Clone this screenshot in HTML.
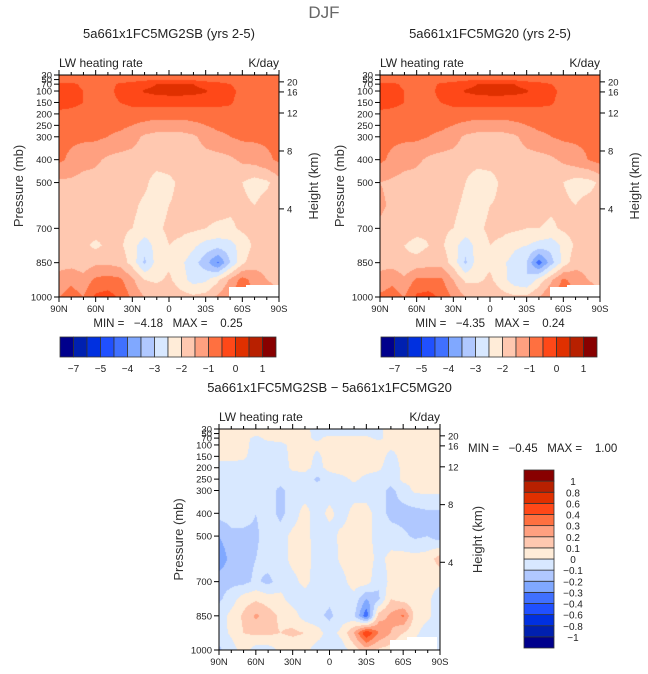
<!DOCTYPE html>
<html><head><meta charset="utf-8">
<style>
html,body{margin:0;padding:0;background:#fff;}
#root{position:relative;width:648px;height:674px;overflow:hidden;font-family:"Liberation Sans",sans-serif;}
canvas{position:absolute;}
svg{position:absolute;left:0;top:0;}
.pre{white-space:pre;}
</style></head>
<body>
<div id="root">
<canvas id="c1"></canvas>
<canvas id="c2"></canvas>
<canvas id="c3"></canvas>
<svg id="ov" width="648" height="674"></svg>
</div>
<script>
const lats = ["90N","80N","70N","60N","50N","40N","30N","20N","10N","0","10S","20S","30S","40S","50S","60S","70S","80S","90S"];
const plevs = [30,50,70,100,150,200,250,300,400,500,600,700,775,850,925,1000];
const xTickLabels = ["90N","60N","30N","0","30S","60S","90S"];
const pTickLabels = [30,50,70,100,150,200,250,300,400,500,700,850,1000];
const pTickShown = ["30","50","70","100","150","200","250","300","400","500","700","850","1000"];
const hTickLabels = [20,16,12,8,4];
const hTickPress = [60,104,196,362,615];
const levels1 = [-7,-6,-5,-4.5,-4,-3.5,-3,-2.5,-2,-1.5,-1,-0.5,0,0.5,1];
const cbLabels1 = ["-7","","-5","","-4","","-3","","-2","","-1","","0","","1"];
const levelsD = [-1,-0.8,-0.6,-0.4,-0.3,-0.2,-0.1,0,0.1,0.2,0.3,0.4,0.6,0.8,1];
const cbLabelsD = ["\u22121","\u22120.8","\u22120.6","\u22120.4","\u22120.3","\u22120.2","\u22120.1","0","0.1","0.2","0.3","0.4","0.6","0.8","1"];
const colors = ["#00008c","#0020b0","#0030e0","#2050ff","#4070ff","#80a8ff","#b0c8ff","#d8e8ff","#ffecd8","#ffc8b0","#ffa080","#ff7040","#ff4818","#e03000","#b82000","#880000"];

const grid1 = [
[-0.8,-0.8,-0.8,-0.8,-0.8,-0.8,-0.8,-0.8,-0.8,-0.8,-0.8,-0.8,-0.8,-0.8,-0.8,-0.8,-0.7,-0.6,-0.6],
[-0.7,-0.7,-0.8,-0.8,-0.8,-0.8,-0.7,-0.6,-0.5,-0.5,-0.5,-0.6,-0.7,-0.8,-0.8,-0.8,-0.8,-0.8,-0.8],
[-0.4,-0.4,-0.6,-0.8,-0.7,-0.4,-0.3,-0.2,0.0,0.05,0.05,0.0,-0.2,-0.3,-0.5,-0.8,-0.8,-0.8,-0.8],
[-0.3,-0.3,-0.5,-0.8,-0.7,-0.3,-0.2,0.05,0.15,0.2,0.2,0.15,0.05,-0.2,-0.3,-0.7,-0.8,-0.8,-0.8],
[-0.3,-0.3,-0.5,-0.8,-0.7,-0.5,-0.3,-0.3,-0.3,-0.3,-0.3,-0.3,-0.3,-0.3,-0.4,-0.8,-0.8,-0.8,-0.8],
[-0.6,-0.7,-0.8,-0.9,-0.9,-0.9,-0.8,-0.8,-0.8,-0.8,-0.8,-0.8,-0.8,-0.8,-0.8,-0.9,-0.9,-0.8,-0.8],
[-0.8,-0.8,-0.9,-0.9,-0.9,-0.9,-1.0,-1.1,-1.2,-1.2,-1.2,-1.1,-1.0,-0.9,-0.9,-0.9,-0.9,-0.8,-0.8],
[-0.9,-0.9,-0.9,-0.9,-1.0,-1.1,-1.3,-1.6,-1.7,-1.7,-1.7,-1.6,-1.3,-1.1,-1.0,-0.9,-0.9,-0.9,-0.9],
[-0.9,-1.1,-1.3,-1.4,-1.6,-1.7,-1.7,-1.8,-1.8,-1.8,-1.8,-1.8,-1.7,-1.7,-1.6,-1.4,-1.3,-1.1,-0.9],
[-1.6,-1.6,-1.7,-1.7,-1.8,-1.8,-1.8,-1.9,-2.2,-2.1,-1.9,-1.8,-1.8,-1.8,-1.9,-2.0,-2.2,-2.1,-1.7],
[-1.6,-1.7,-1.7,-1.8,-1.8,-1.8,-1.9,-2.1,-2.2,-2.0,-1.9,-1.8,-1.8,-1.8,-1.9,-1.9,-2.0,-1.8,-1.7],
[-1.7,-1.8,-1.8,-1.8,-1.9,-1.9,-2.0,-2.2,-2.1,-1.9,-1.9,-1.9,-2.0,-2.1,-2.1,-1.9,-1.8,-1.7,-1.7],
[-1.8,-1.8,-1.9,-2.1,-1.9,-1.9,-2.3,-2.8,-2.3,-2.0,-2.1,-2.4,-2.7,-2.8,-2.7,-2.3,-1.9,-1.8,-1.7],
[-1.7,-1.7,-1.8,-1.6,-1.6,-1.7,-2.2,-3.1,-2.3,-2.1,-2.4,-2.8,-3.3,-4.1,-3.0,-2.1,-1.7,-1.7,-1.7],
[-1.3,-1.1,-1.3,-0.9,-0.8,-0.9,-1.4,-2.0,-2.1,-1.9,-2.3,-2.7,-2.6,-2.1,-1.4,-0.8,-1.2,-1.5,-1.6],
[-1.0,-0.8,-1.0,-0.4,-0.3,-0.6,-1.1,-1.5,-1.6,-1.6,-1.8,-1.9,-1.8,-1.4,-1.0,-0.6,-1.0,-1.3,-1.4]];

const grid2 = [
[-0.8,-0.8,-0.8,-0.8,-0.8,-0.8,-0.8,-0.8,-0.8,-0.8,-0.8,-0.8,-0.8,-0.8,-0.8,-0.8,-0.7,-0.6,-0.6],
[-0.7,-0.7,-0.8,-0.8,-0.8,-0.8,-0.7,-0.6,-0.5,-0.5,-0.5,-0.6,-0.7,-0.8,-0.8,-0.8,-0.8,-0.8,-0.8],
[-0.4,-0.4,-0.6,-0.8,-0.7,-0.4,-0.3,-0.2,0.0,0.05,0.05,0.0,-0.2,-0.3,-0.5,-0.8,-0.8,-0.8,-0.8],
[-0.3,-0.3,-0.5,-0.8,-0.7,-0.3,-0.2,0.05,0.15,0.2,0.2,0.15,0.05,-0.2,-0.3,-0.7,-0.8,-0.8,-0.8],
[-0.3,-0.3,-0.5,-0.8,-0.7,-0.5,-0.3,-0.3,-0.3,-0.3,-0.3,-0.3,-0.3,-0.3,-0.4,-0.8,-0.8,-0.8,-0.8],
[-0.6,-0.7,-0.8,-0.9,-0.9,-0.9,-0.8,-0.8,-0.8,-0.8,-0.8,-0.8,-0.8,-0.8,-0.8,-0.9,-0.9,-0.8,-0.8],
[-0.8,-0.8,-0.9,-0.9,-0.9,-0.9,-1.0,-1.1,-1.2,-1.2,-1.2,-1.1,-1.0,-0.9,-0.9,-0.9,-0.9,-0.8,-0.8],
[-0.9,-0.9,-0.9,-0.9,-1.0,-1.1,-1.3,-1.6,-1.7,-1.7,-1.7,-1.6,-1.3,-1.1,-1.0,-0.9,-0.9,-0.9,-0.9],
[-0.9,-1.1,-1.3,-1.4,-1.6,-1.7,-1.7,-1.8,-1.8,-1.8,-1.8,-1.8,-1.7,-1.7,-1.6,-1.4,-1.2,-1.0,-0.8],
[-1.5,-1.6,-1.7,-1.7,-1.8,-1.8,-1.8,-2.0,-2.3,-2.2,-1.9,-1.8,-1.8,-1.8,-1.9,-2.0,-2.2,-2.2,-1.9],
[-1.4,-1.6,-1.7,-1.7,-1.8,-1.8,-1.9,-2.1,-2.2,-2.0,-1.9,-1.8,-1.8,-1.8,-1.9,-1.9,-2.0,-1.8,-1.8],
[-1.6,-1.7,-1.7,-1.8,-1.9,-1.9,-2.0,-2.2,-2.1,-1.9,-1.9,-1.9,-2.0,-2.0,-2.1,-1.9,-1.8,-1.7,-1.7],
[-1.8,-1.8,-2.0,-2.2,-2.0,-1.9,-2.3,-2.8,-2.3,-2.0,-2.1,-2.4,-2.5,-2.7,-2.8,-2.4,-1.9,-1.8,-1.7],
[-1.7,-1.7,-1.9,-1.8,-1.7,-1.7,-2.2,-3.1,-2.2,-2.1,-2.4,-2.7,-3.0,-4.3,-3.2,-2.3,-1.7,-1.7,-1.7],
[-1.3,-1.1,-1.4,-0.9,-0.9,-0.9,-1.5,-2.1,-2.1,-1.9,-2.3,-2.8,-3.0,-2.3,-1.6,-0.9,-1.2,-1.5,-1.6],
[-0.9,-0.8,-1.0,-0.4,-0.3,-0.6,-1.1,-1.5,-1.6,-1.6,-1.8,-1.9,-1.9,-1.5,-1.0,-0.6,-1.0,-1.3,-1.4]];

const gridD = [
[0.05,0.05,0.05,0.04,0.03,0.04,0.04,0.03,-0.05,-0.05,-0.05,-0.05,-0.05,-0.02,0.04,0.05,0.05,0.05,0.05],
[0.05,0.05,0.05,0.03,0.03,0.04,0.04,0.03,-0.03,-0.03,-0.03,-0.03,-0.03,-0.02,0.04,0.05,0.05,0.05,0.05],
[0.05,0.05,0.04,-0.03,0.03,0.04,0.04,0.02,-0.02,0.03,0.03,0.03,0.02,-0.02,0.03,0.05,0.05,0.05,0.05],
[0.05,0.05,0.04,-0.05,-0.04,-0.03,0.03,0.03,0.02,0.04,0.05,0.05,0.05,0.04,0.02,0.03,0.05,0.05,0.05],
[0.04,0.04,0.02,-0.05,-0.05,-0.05,0.03,0.04,-0.02,0.04,0.05,0.05,0.05,0.04,-0.03,0.03,0.05,0.05,0.05],
[-0.05,-0.05,-0.05,-0.05,-0.05,-0.05,0.02,0.03,-0.03,0.03,0.05,0.05,0.04,0.02,-0.05,0.02,0.04,0.05,0.05],
[-0.05,-0.05,-0.05,-0.05,-0.05,-0.05,-0.05,-0.05,-0.12,-0.05,-0.03,0.02,-0.03,-0.05,-0.05,0.02,0.03,0.04,0.04],
[-0.05,-0.05,-0.05,-0.05,-0.05,-0.13,-0.05,-0.05,-0.05,-0.05,-0.05,-0.05,-0.05,-0.05,-0.13,-0.05,0.02,0.02,0.02],
[-0.06,-0.05,-0.05,-0.1,-0.05,-0.13,-0.05,0.04,-0.05,0.03,-0.05,0.04,0.04,-0.05,-0.13,-0.14,-0.14,-0.12,-0.12],
[-0.2,-0.13,-0.13,-0.12,-0.05,-0.05,0.03,0.04,-0.05,-0.05,0.03,0.05,0.04,-0.05,-0.05,-0.08,-0.12,-0.1,-0.16],
[-0.28,-0.16,-0.13,-0.1,-0.05,-0.05,0.03,0.05,-0.05,-0.05,0.02,0.05,0.05,-0.03,0.03,0.04,0.04,0.05,0.15],
[-0.13,-0.13,-0.13,-0.08,-0.13,-0.05,-0.03,0.03,-0.05,-0.05,-0.03,0.04,0.05,-0.08,0.03,0.04,0.04,0.03,0.02],
[-0.12,-0.05,0.05,0.08,0.05,0.03,-0.05,-0.05,-0.05,-0.08,-0.05,-0.03,-0.2,-0.12,0.1,0.05,0.03,0.02,-0.05],
[-0.05,0.03,0.12,0.22,0.15,0.08,0.05,-0.05,-0.08,-0.12,-0.05,-0.08,-0.38,0.15,0.22,0.32,0.06,0.02,-0.05],
[-0.05,0.02,0.1,0.12,0.12,0.1,0.12,0.1,0.05,-0.05,0.03,0.2,0.5,0.3,0.2,0.1,0.02,-0.05,-0.05],
[-0.12,-0.05,0.05,-0.05,-0.05,0.02,0.03,0.03,-0.05,-0.05,-0.05,0.05,0.15,0.08,0.05,-0.05,-0.05,-0.05,-0.05]];

const NS="http://www.w3.org/2000/svg";
const ov=document.getElementById('ov');
function el(tag,attrs,txt){const e=document.createElementNS(NS,tag);for(const k in attrs)e.setAttribute(k,attrs[k]);if(txt!==undefined)e.textContent=txt;ov.appendChild(e);return e;}

function colorFor(v,lev){let i=0;while(i<lev.length&&v>=lev[i])i++;return colors[i];}
function hex(c){return [parseInt(c.substr(1,2),16),parseInt(c.substr(3,2),16),parseInt(c.substr(5,2),16)];}

function drawField(id,grid,lev,X,Y,W,H){
  const cv=document.getElementById(id);
  cv.width=W;cv.height=H;cv.style.left=X+'px';cv.style.top=Y+'px';
  const ctx=cv.getContext('2d');const img=ctx.createImageData(W,H);
  const nl=lats.length-1;
  for(let py=0;py<H;py++){
    const p=30+(py+0.5)/H*970;
    let k=0;while(k<plevs.length-2&&p>plevs[k+1])k++;
    const t=Math.min(1,Math.max(0,(p-plevs[k])/(plevs[k+1]-plevs[k])));
    for(let px=0;px<W;px++){
      const f=(px+0.5)/W*nl;let j=Math.min(nl-1,Math.floor(f));const s=f-j;
      const v=(1-t)*((1-s)*grid[k][j]+s*grid[k][j+1])+t*((1-s)*grid[k+1][j]+s*grid[k+1][j+1]);
      const c=hex(colorFor(v,lev));const o=(py*W+px)*4;
      img.data[o]=c[0];img.data[o+1]=c[1];img.data[o+2]=c[2];img.data[o+3]=255;
    }
  }
  ctx.putImageData(img,0,0);
}

function yOf(p,Y,H){return Y+(p-30)/970*H;}

function drawAxes(X,Y,W,H,title,hx,name){
  const fam='"Liberation Sans",sans-serif';
  const t=el('text',{x:X+W/2,y:Y-37,'text-anchor':'middle','font-size':13,fill:'#222','font-family':fam},title);
  
  
  const l=el('text',{x:X,y:Y-8,'font-size':12,fill:'#222','font-family':fam},'LW heating rate');
  
  
  const u=el('text',{x:X+W,y:Y-8,'text-anchor':'end','font-size':12,fill:'#222','font-family':fam},'K/day');
  
  
  const fr=el('rect',{x:X,y:Y,width:W,height:H,fill:'none',stroke:'#000','stroke-width':1});
  
  
  for(let i=0;i<lats.length;i++){
    const x=X+i/(lats.length-1)*W;const major=i%3===0;const L=major?5:3;
    el('line',{x1:x,y1:Y+H,x2:x,y2:Y+H+L,stroke:'#000'});
    el('line',{x1:x,y1:Y,x2:x,y2:Y-L,stroke:'#000'});
    if(major){const tx=el('text',{x:x,y:Y+H+15,'text-anchor':'middle','font-size':9.5,fill:'#222','font-family':fam},xTickLabels[i/3]);
      
      }
  }
  pTickLabels.forEach((p,i)=>{const y=yOf(p,Y,H);el('line',{x1:X-5,y1:y,x2:X,y2:y,stroke:'#000'});
    const tx=el('text',{x:X-7,y:y+3.5,'text-anchor':'end','font-size':9.5,fill:'#222','font-family':fam},pTickShown[i]);
    
    });
  hTickLabels.forEach((h,i)=>{const y=yOf(hTickPress[i],Y,H);el('line',{x1:X+W,y1:y,x2:X+W+5,y2:y,stroke:'#000'});
    const tx=el('text',{x:X+W+8,y:y+3.5,'font-size':9.5,fill:'#222','font-family':fam},String(h));
    
    });
  const pl=el('text',{x:0,y:0,'text-anchor':'middle','font-size':13,fill:'#333','font-family':fam,transform:`translate(${X-36},${Y+H/2}) rotate(-90)`},'Pressure (mb)');
  
  
  const hl=el('text',{x:0,y:0,'text-anchor':'middle','font-size':13,fill:'#333','font-family':fam,transform:`translate(${hx},${Y+H/2}) rotate(-90)`},'Height (km)');
  
  
}

function hbar(X,Y,W,H,lev,labels,name){
  const n=colors.length,bw=W/n;
  for(let i=0;i<n;i++){const r=el('rect',{x:X+i*bw,y:Y,width:bw,height:H,fill:colors[i],stroke:'#333','stroke-width':0.8});
    
    }
  labels.forEach((s,i)=>{if(!s)return;const t=el('text',{x:X+(i+1)*bw,y:Y+H+15,'text-anchor':'middle','font-size':10,fill:'#222','font-family':'"Liberation Sans",sans-serif'},s.replace('-','\u2212'));
    
    });
}
function vbar(X,Y,W,H,lev,labels,name){
  const n=colors.length,bh=H/n;
  for(let i=0;i<n;i++){const r=el('rect',{x:X,y:Y+(n-1-i)*bh,width:W,height:bh,fill:colors[i],stroke:'#333','stroke-width':0.8});
    
    }
  labels.forEach((s,i)=>{const y=Y+(n-1-i)*bh;const t=el('text',{x:X+W+19,y:y+4,'text-anchor':'middle','font-size':10,fill:'#222','font-family':'"Liberation Sans",sans-serif'},s);
    
    });
}

drawField('c1',grid1,levels1,59,75,220,222);
drawField('c2',grid2,levels1,380,75,220,222);
drawField('c3',gridD,levelsD,219,429,221,221);

function mask(x,y,w,h,name){const r=el('rect',{x:x,y:y,width:w,height:h,fill:'#fff'});
  
  }
mask(229,287,50,10,'left-missing-data');
mask(246,285,33,12,'left-missing-data');
mask(550,287,50,10,'right-missing-data');
mask(567,285,33,12,'right-missing-data');
mask(390,640,47,10,'diff-missing-data');
mask(407,637,30,13,'diff-missing-data');

const dj=el('text',{x:324,y:18,'text-anchor':'middle','font-size':17,fill:'#666','font-family':'"Liberation Sans",sans-serif'},'DJF');



drawAxes(59,75,220,222,'5a661x1FC5MG2SB (yrs 2-5)',318,'left');
drawAxes(380,75,220,222,'5a661x1FC5MG20 (yrs 2-5)',639,'right');
drawAxes(219,429,221,221,'5a661x1FC5MG2SB \u2212 5a661x1FC5MG20',482,'diff');

const fam='"Liberation Sans",sans-serif';
const m1=el('text',{x:168,y:327,'text-anchor':'middle','font-size':11.5,fill:'#222','font-family':fam,'class':'pre'},'MIN =   \u22124.18   MAX =    0.25');


const m2=el('text',{x:490,y:327,'text-anchor':'middle','font-size':11.5,fill:'#222','font-family':fam,'class':'pre'},'MIN =   \u22124.35   MAX =    0.24');


const m3=el('text',{x:468,y:452,'font-size':11.5,fill:'#222','font-family':fam,'class':'pre'},'MIN =   \u22120.45   MAX =    1.00');



hbar(60,337,216,20,levels1,cbLabels1,'left-colorbar');
hbar(381,337,216,20,levels1,cbLabels1,'right-colorbar');
vbar(524,470,30,178,levelsD,cbLabelsD,'diff-colorbar');
</script>
</body></html>
